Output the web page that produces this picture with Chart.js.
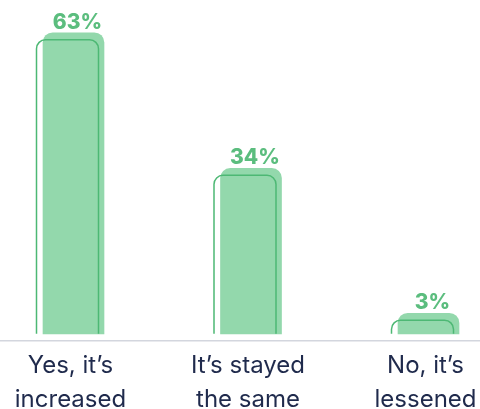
<!DOCTYPE html>
<html>
<head>
<meta charset="utf-8">
<script src="https://cdn.jsdelivr.net/npm/chart.js@4"></script>
<style>
  html, body { margin: 0; padding: 0; background: #fff; }
  #wrap { width: 480px; height: 409px; }
</style>
</head>
<body>
<div id="wrap"><canvas id="chart"></canvas></div>
<script>
const categories = [["Yes, it’s", "increased"], ["It’s stayed", "the same"], ["No, it’s", "lessened"]];
const shares = [63, 34, 3];

const GREEN_FILL = '#93d8ac';
const GREEN_LINE = '#4db874';
const GREEN_TEXT = '#5bbd7e';
const AXIS_GREY = '#d3d6de';
const INK = '#1f2a4c';

// grey baseline across the whole width, drawn under the bars
const baseline = {
  id: 'baseline',
  beforeDatasetsDraw(chart) {
    const ctx = chart.ctx;
    const y = chart.chartArea.bottom;
    ctx.save();
    ctx.strokeStyle = AXIS_GREY;
    ctx.lineWidth = 1.5;
    ctx.beginPath();
    ctx.moveTo(0, y);
    ctx.lineTo(chart.width, y);
    ctx.stroke();
    ctx.restore();
  }
};

// shifted outline on each bar + the percentage above it
const barDecor = {
  id: 'barDecor',
  afterDatasetsDraw(chart) {
    const ctx = chart.ctx;
    const meta = chart.getDatasetMeta(0);
    ctx.save();
    meta.data.forEach((bar, i) => {
      const p = bar.getProps(['x', 'y', 'base', 'width'], true);
      const left = p.x - p.width / 2 - 6.5;
      const right = left + p.width + 1;
      const top = p.y + 7;
      const r = Math.min(9, p.base - top);

      ctx.strokeStyle = GREEN_LINE;
      ctx.lineWidth = 1.5;
      ctx.beginPath();
      ctx.moveTo(left, p.base);
      ctx.lineTo(left, top + r);
      ctx.arcTo(left, top, left + r, top, r);
      ctx.lineTo(right - r, top);
      ctx.arcTo(right, top, right, top + r, r);
      ctx.lineTo(right, p.base);
      ctx.stroke();

      ctx.fillStyle = GREEN_TEXT;
      ctx.font = '800 21px Inter';
      ctx.textAlign = 'center';
      ctx.textBaseline = 'alphabetic';
      ctx.fillText(shares[i] + '%', p.x + 4, p.y - 4);
    });
    ctx.restore();
  }
};

new Chart(document.getElementById('chart'), {
  type: 'bar',
  data: {
    labels: categories,
    datasets: [{
      data: shares,
      backgroundColor: GREEN_FILL,
      borderWidth: 0,
      borderRadius: { topLeft: 10, topRight: 10, bottomLeft: 0, bottomRight: 0 },
      barThickness: 61,
      base: -1.4,
      clip: false
    }]
  },
  options: {
    responsive: true,
    maintainAspectRatio: false,
    animation: false,
    layout: { padding: { left: 73.5, right: 51.5, top: 0, bottom: -16 } },
    plugins: {
      legend: { display: false },
      tooltip: { enabled: false }
    },
    scales: {
      x: {
        offset: false,
        grid: { display: false, drawTicks: false },
        border: { display: false },
        // labels may run past the plot edges, the canvas has room for them
        afterFit(scale) {
          scale.paddingLeft = 0;
          scale.paddingRight = 0;
        },
        ticks: {
          color: INK,
          font: { family: 'Inter', size: 24, lineHeight: 1.42 },
          padding: 8,
          labelOffset: -3,
          maxRotation: 0,
          autoSkip: false
        }
      },
      y: {
        display: false,
        min: -2.9,
        max: 70
      }
    }
  },
  plugins: [baseline, barDecor]
});
</script>
</body>
</html>
